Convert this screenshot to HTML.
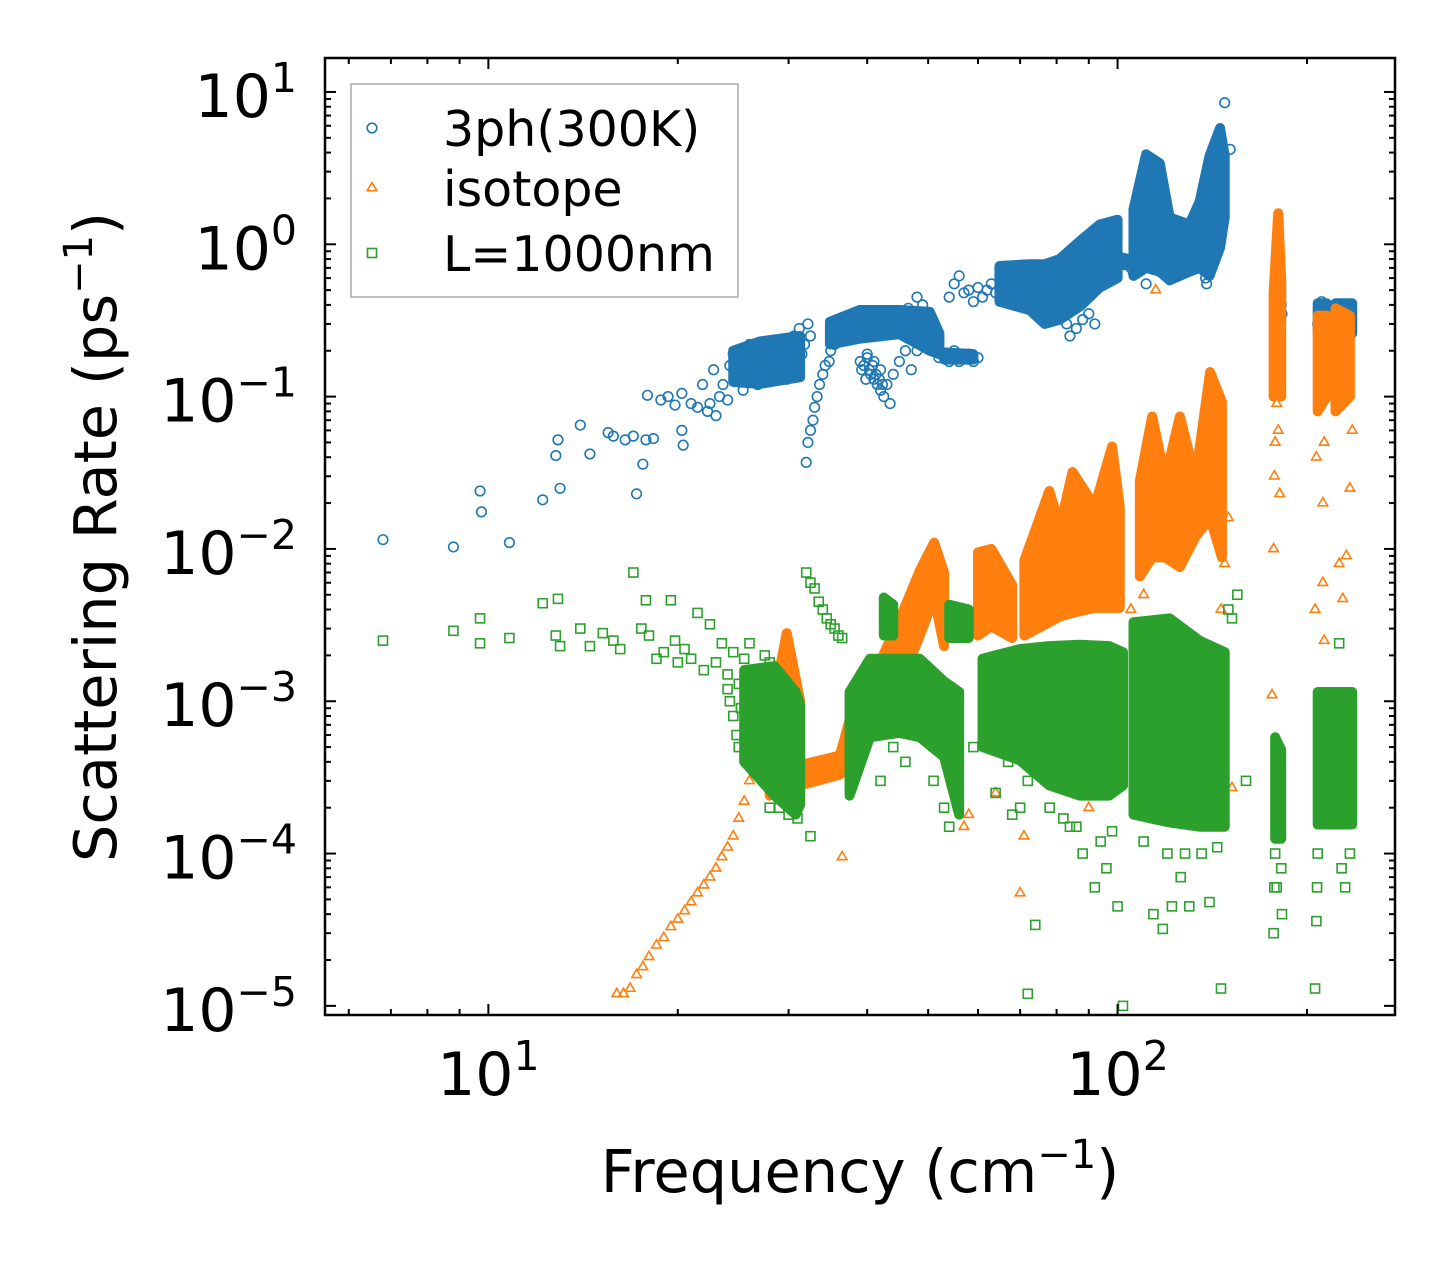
<!DOCTYPE html>
<html><head><meta charset="utf-8"><style>
html,body{margin:0;padding:0;background:#fff}
svg{display:block;font-family:"DejaVu Sans","Liberation Sans",sans-serif}
</style></head><body>
<svg id="chart" width="1455" height="1265" viewBox="0 0 1455 1265" xmlns="http://www.w3.org/2000/svg">
<g id="marks"></g>
<g id="axes"></g>
</svg>
<script>
const blueData = [
[6.8,.0115],[8.8,.0103],[9.7,.024],[9.75,.0175],[10.8,.011],[12.2,.021],[12.8,.041],[12.9,.052],[13,.025],[14,.065],[14.5,.042],[15.5,.058],[15.8,.055],[16.5,.052],[17,.055],[17.2,.023],[17.6,.036],[17.8,.052],[17.9,.102],[18.3,.053],[18.8,.095],[19.3,.1],[19.8,.088],[20.3,.105],[20.3,.06],[20.4,.048],[21,.09],[21.5,.085],[21.9,.12],[22.3,.08],[22.5,.09],[22.8,.15],[23,.075],[23.3,.1],[23.6,.12],[24,.095],[24.2,.16],[24.5,.19],[24.8,.13],[25.2,.2],[25.4,.11],[25.7,.15],[26,.22],[26.2,.13],[26.5,.18],[26.8,.12],[27,.21],[27.2,.16],[27.5,.19],[27.8,.14],[28,.23],[28.3,.17],[28.6,.2],[28.9,.15],[29.2,.22],[29.5,.18],[29.8,.13],[30,.2],[30.3,.16],[30.6,.25],[30.9,.14],[31.2,.28],[31.5,.19],[31.8,.22],[32.2,.3],[32.5,.25],
[32,.037],[32.2,.05],[32.5,.06],[32.8,.07],[33,.085],[33.3,.1],[33.6,.12],[34,.14],[34.3,.16],[34.8,.17],[35,.2],[35.5,.22],[36,.24],[36.5,.25],[37,.27],[37.5,.28],[38,.3],[46.5,.38],[48,.45],[49,.4],
[39,.17],[39.2,.15],[39.5,.16],[39.8,.13],[40,.18],[40.3,.15],[40.5,.14],[40.8,.16],[41,.13],[41.3,.14],[41.5,.12],[41.8,.13],[42,.11],[42.3,.12],[42.5,.1],[43,.12],[43.5,.09],[44,.14],[45,.17],[46,.2],[47,.15],[48,.2],[49,.23],[40,.19],[41,.17],[42,.15],
[52,.18],[53,.19],[54,.17],[55,.2],[56,.17],[57,.18],[58,.19],[59,.17],[60,.18],
[54,.45],[55,.55],[56,.62],[57,.48],[58,.5],[59,.42],[60,.52],[61,.45],[62,.5],[63,.55],[64,.48],[79,.4],[81,.35],[83,.3],[84,.25],[86,.28],[88,.32],[90,.35],[92,.3],
[104,.75],[105,.7],[106,.65],[107,.7],[108,.75],[110,.7],[111,.55],[112,.8],[138,.6],[138.5,.55],[148,8.5],[151,4.2],
[178,.3],[178,.4],[179,.5],[179.5,.6],[180,.7],[180.5,.65],[181,.55],[181.5,.45],[182,.4],[182.5,.35],
[208,.3],[209,.35],[210,.4],[211,.42],[212,.38],[213,.3],[214,.25],[222,.3],[223,.35],[224,.4],[225,.38],[226,.32],[227,.28],[230,.3],[231,.35],[232,.4],[233,.38],[234,.3],[235,.27]
];
const orangeData = [
[16,1.2e-5],[16.4,1.2e-5],[16.8,1.3e-5],[17.2,1.6e-5],[17.6,1.8e-5],[18,2.1e-5],[18.5,2.5e-5],[19,2.8e-5],[19.5,3.3e-5],[20,3.7e-5],[20.5,4.2e-5],[21,4.8e-5],[21.5,5.5e-5],[22,6.2e-5],[22.5,7e-5],[23,8e-5],[23.5,9.5e-5],[24,1.1e-4],[24.5,1.3e-4],[25,1.7e-4],[25.5,2.2e-4],[26,3e-4],[26.5,4e-4],[27,5e-4],
[36.5,9.5e-5],[57,1.5e-4],[70,5.5e-5],[58,1.8e-4],[64,2.5e-4],[71,1.3e-4],[90,2e-4],[100,3e-4],[152,2.7e-4],[115,5e-1],
[105,4e-3],[110,5e-3],[148,8e-3],[150,1.6e-2],[146,4e-3],
[177,.01],[177.5,.03],[178,.05],[180,.06],[181,.023],[176,1.1e-3],[179,.09],
[206,.004],[207,.04],[212,.02],[213,.05],[225,.008],[228,.0047],[234,.025],[212,.006],[213,.0025],[231,.009],[236,.06],[214,.1]
];
const greenData = [
[6.8,2.5e-3],[8.8,2.9e-3],[9.7,3.5e-3],[9.7,2.4e-3],[10.8,2.6e-3],[12.2,4.4e-3],[12.9,4.7e-3],[12.8,2.7e-3],[13,2.3e-3],[14,3e-3],[14.5,2.3e-3],[15.2,2.8e-3],[15.8,2.5e-3],[16.2,2.2e-3],[17,7e-3],[17.5,3e-3],[17.8,4.6e-3],[18,2.7e-3],[18.5,1.9e-3],[19,2.1e-3],[19.5,4.6e-3],[19.8,2.5e-3],[20,1.8e-3],[20.5,2.2e-3],[21,1.9e-3],[21.5,3.8e-3],[22,1.6e-3],[22.5,3.2e-3],[23,1.8e-3],[23.5,2.4e-3],[24,1.5e-3],[24.5,2.1e-3],[25,1.3e-3],[25.5,1.9e-3],[26,2.4e-3],[26.5,1.2e-3],[27,1.6e-3],[27.5,2e-3],[28,1.8e-3],
[24,1.2e-3],[24.5,8e-4],[25,5e-4],[24.2,1e-3],[24.8,6e-4],[25.2,9e-4],
[29,2e-4],[30,1.8e-4],[31,1.7e-4],[32.5,1.3e-4],[28,2e-4],
[32,7e-3],[32.5,6e-3],[33,5.5e-3],[33.5,4.5e-3],[34,4e-3],[34.5,3.5e-3],[35,3.2e-3],[35.5,3e-3],[36,2.7e-3],[36.5,2.6e-3],
[42,3e-4],[44,5e-4],[46,4e-4],[53,2e-4],[54,1.5e-4],[51,3e-4],[50,1e-3],
[59,5e-4],[63,6e-4],[64,2.5e-4],[67,4e-4],[72,3e-4],[68,1.8e-4],[70,2e-4],
[78,2e-4],[82,1.7e-4],[86,1.5e-4],[84,1.5e-4],[88,1e-4],[96,8e-5],[100,4.5e-5],[74,3.4e-5],[72,1.2e-5],[102,1e-5],[92,6e-5],[94,1.2e-4],[98,1.4e-4],
[114,4e-5],[118,3.2e-5],[122,4.5e-5],[126,7e-5],[130,4.5e-5],[140,4.8e-5],[146,1.3e-5],[150,4e-3],[155,5e-3],[152,3.5e-3],[128,1e-4],[136,1e-4],[144,1.1e-4],[120,1e-4],[110,1.2e-4],[160,3e-4],
[177,3e-5],[177.5,6e-5],[178,1e-4],[182,8e-5],[182.5,4e-5],[179,6e-5],
[206,1.3e-5],[207,3.6e-5],[207.5,6e-5],[208,1e-4],[227,8e-5],[225,2.4e-3],[234,1e-4],[230,6e-5]
];
// dense-cluster envelopes: [frequency, lowRate, highRate]
const blueBands = [
 [[24.5,.125,.2],[27,.121,.23],[31.3,.134,.25]],
 [[34.9,.22,.31],[38.9,.24,.37],[45,.257,.37],[50.3,.2,.36],[52.1,.19,.26]],
 [[53,.175,.195],[59,.175,.19]],
 [[64.9,.42,.72],[72.5,.37,.74],[76.6,.3,.74],[80.9,.32,.8],[87.1,.39,1.05],[93.7,.52,1.35],[100,.6,1.45]],
 [[100,.73,.83],[106,.73,.79]],
 [[106,.62,1.7],[111,.7,3.9],[116.7,.66,3.4],[121,.58,1.5],[130,.66,1.35],[135,.7,1.9],[140,.62,3.8],[145.5,.95,5.8],[148,1.5,3.8]],
 [[178,.3,.68],[182,.3,.58]],
 [[208,.26,.41],[215,.26,.41]],
 [[222,.26,.41],[236,.26,.41]]
];
const orangeBands = [
 [[28,2.4e-4,7.5e-4],[29.8,2.8e-4,2.8e-3],[31.3,2.4e-4,1e-3]],
 [[31.3,2.8e-4,3.8e-4],[36.2,3.3e-4,4.4e-4],[37.5,3.7e-4,7.5e-4],[41.9,8e-4,1.8e-3],[45,1.25e-3,3.4e-3],[48.5,2.7e-3,7.2e-3],[51.1,4.8e-3,1.1e-2],[53,2.3e-3,7e-3]],
 [[60,2.7e-3,9.5e-3],[63,3.1e-3,1e-2],[68,2.6e-3,5.8e-3]],
 [[71.1,2.7e-3,8.4e-3],[77.9,3.3e-3,2.4e-2],[81,3.6e-3,1.4e-2],[84.8,3.8e-3,3.2e-2],[92,4.1e-3,1.9e-2],[98,4.1e-3,4.7e-2],[100.8,4.1e-3,1.9e-2]],
 [[108.5,6.6e-3,2.8e-2],[113.5,8.8e-3,7.4e-2],[119,8.8e-3,2.9e-2],[125.6,7.6e-3,7.4e-2],[133,1.2e-2,2.9e-2],[140.3,1.6e-2,.145],[146.5,8.8e-3,.092]],
 [[177,.1,.48],[180,.2,1.6],[182,.1,.58]],
 [[208,.08,.34],[215,.1,.34]],
 [[222,.08,.38],[234,.1,.34]]
];
const greenBands = [
 [[25.5,4e-4,1.6e-3],[28.5,2.4e-4,1.7e-3],[30.8,1.8e-4,1.15e-3],[31.3,2.1e-4,9.5e-4]],
 [[37.5,2.4e-4,1.15e-3],[40.4,5.8e-4,1.9e-3],[45,6.2e-4,1.9e-3],[48.5,5.8e-4,1.9e-3],[53,4.3e-4,1.35e-3],[56,1.8e-4,1.15e-3]],
 [[42.5,2.7e-3,4.8e-3],[44,2.7e-3,4.3e-3]],
 [[54,2.6e-3,4.3e-3],[58,2.6e-3,4e-3]],
 [[61,5e-4,1.9e-3],[69.9,4.1e-4,2.2e-3],[77.9,2.8e-4,2.3e-3],[87.1,2.4e-4,2.35e-3],[97,2.4e-4,2.3e-3],[102,2.8e-4,2.1e-3]],
 [[106,1.8e-4,3.3e-3],[121,1.6e-4,3.5e-3],[135,1.5e-4,2.5e-3],[148,1.5e-4,2.1e-3]],
 [[178,1.25e-4,5.8e-4],[182,1.25e-4,4.8e-4]],
 [[208,1.55e-4,1.15e-3],[236,1.55e-4,1.15e-3]]
];
const xTickValues = [10, 100];
const xTickExps = ["1", "2"];
const yTickValues = [10, 1, 0.1, 0.01, 0.001, 0.0001, 0.00001];
const yTickExps = ["1", "0", "\u22121", "\u22122", "\u22123", "\u22124", "\u22125"];

const NS = "http://www.w3.org/2000/svg";
const L = 325, R = 1395, T = 58, B = 1015;
const xMin = Math.log10(5.5), xMax = Math.log10(276);
const yMin = -5.06, yMax = 1.223;
function xs(v){ return L + (Math.log10(v) - xMin) / (xMax - xMin) * (R - L); }
function ys(v){ return B - (Math.log10(v) - yMin) / (yMax - yMin) * (B - T); }
function el(tag, attrs, parent){ const e = document.createElementNS(NS, tag); for (const k in attrs) e.setAttribute(k, attrs[k]); parent.appendChild(e); return e; }

const marks = document.getElementById("marks");
const axes = document.getElementById("axes");

function tri(cx, cy, s){ return `${cx},${cy - s} ${cx - s*0.87},${cy + s*0.5} ${cx + s*0.87},${cy + s*0.5}`; }
function bandPoints(band){
  const top = band.map(d => `${xs(d[0])},${ys(d[2])}`);
  const bot = band.slice().reverse().map(d => `${xs(d[0])},${ys(d[1])}`);
  return top.concat(bot).join(" ");
}

const gB = el("g", {}, marks);


const gO = el("g", {}, marks);


const gG = el("g", {}, marks);



blueBands.forEach(b => {
  const p = el("polygon", {points: bandPoints(b), fill: "#1f77b4", stroke: "#1f77b4", "stroke-width": 10, "stroke-linejoin": "round"}, gB);
  
  
});
blueData.forEach(d => {
  const c = el("circle", {cx: xs(d[0]), cy: ys(d[1]), r: 4.8, fill: "none", stroke: "#1f77b4", "stroke-width": 1.6}, gB);
  
  
});
orangeBands.forEach(b => {
  const p = el("polygon", {points: bandPoints(b), fill: "#ff7f0e", stroke: "#ff7f0e", "stroke-width": 10, "stroke-linejoin": "round"}, gO);
  
  
});
orangeData.forEach(d => {
  const p = el("polygon", {points: tri(xs(d[0]), ys(d[1]), 5.5), fill: "none", stroke: "#ff7f0e", "stroke-width": 1.6}, gO);
  
  
});
greenBands.forEach(b => {
  const p = el("polygon", {points: bandPoints(b), fill: "#2ca02c", stroke: "#2ca02c", "stroke-width": 10, "stroke-linejoin": "round"}, gG);
  
  
});
greenData.forEach(d => {
  const r = el("rect", {x: xs(d[0]) - 4.5, y: ys(d[1]) - 4.5, width: 9, height: 9, fill: "none", stroke: "#2ca02c", "stroke-width": 1.6}, gG);
  
  
});

const frame = el("rect", {x: L, y: T, width: R - L, height: B - T, fill: "none", stroke: "#000", "stroke-width": 2.5}, axes);



for (let dec = 1; dec <= 100; dec *= 10) {
  for (let m = 1; m <= 9; m++) {
    const v = m * dec; if (v < 5.5 || v > 276) continue;
    const x = xs(v), len = m === 1 ? 11 : 6;
    const t1 = el("line", {x1: x, x2: x, y1: B, y2: B - len, stroke: "#000", "stroke-width": 2}, axes);
    
    
    const t2 = el("line", {x1: x, x2: x, y1: T, y2: T + len, stroke: "#000", "stroke-width": 2}, axes);
    
    
  }
}
for (let e = -5; e <= 1; e++) {
  for (let m = 1; m <= 9; m++) {
    const v = m * Math.pow(10, e); const lv = Math.log10(v);
    if (lv < yMin || lv > yMax) continue;
    const y = ys(v), len = m === 1 ? 11 : 6;
    const t1 = el("line", {x1: L, x2: L + len, y1: y, y2: y, stroke: "#000", "stroke-width": 2}, axes);
    
    
    const t2 = el("line", {x1: R, x2: R - len, y1: y, y2: y, stroke: "#000", "stroke-width": 2}, axes);
    
    
  }
}
xTickValues.forEach((v, i) => {
  const t = el("text", {x: xs(v), y: 1095, "text-anchor": "middle", "font-size": 60, fill: "#000"}, axes);
  
  
  t.innerHTML = `10<tspan dy="-25" font-size="41">${xTickExps[i]}</tspan>`;
});
yTickValues.forEach((v, i) => {
  const t = el("text", {x: 297, y: ys(v) + 25, "text-anchor": "end", "font-size": 60, fill: "#000"}, axes);
  
  
  t.innerHTML = `10<tspan dy="-25" font-size="41">${yTickExps[i]}</tspan>`;
});
const xt = el("text", {x: 860, y: 1192, "text-anchor": "middle", "font-size": 59, fill: "#000"}, axes);


xt.innerHTML = 'Frequency (cm<tspan dy="-24" font-size="40">\u22121</tspan><tspan dy="24">)</tspan>';
const yt = el("text", {x: 0, y: 0, "text-anchor": "middle", "font-size": 59, fill: "#000", transform: "translate(116,537) rotate(-90)"}, axes);


yt.innerHTML = 'Scattering Rate (ps<tspan dy="-24" font-size="40">\u22121</tspan><tspan dy="24">)</tspan>';

const lg = el("g", {}, axes);


const lb = el("rect", {x: 351, y: 84, width: 387, height: 213, fill: "#fff", "fill-opacity": 0.8, stroke: "#aaa", "stroke-width": 1.5}, lg);


const legendItems = ["3ph(300K)", "isotope", "L=1000nm"];
const legendY = [128, 188, 253];
legendItems.forEach((name, i) => {
  const y = legendY[i];
  let m;
  if (i === 0) m = el("circle", {cx: 372, cy: y, r: 4.8, fill: "none", stroke: "#1f77b4", "stroke-width": 1.6}, lg);
  else if (i === 1) m = el("polygon", {points: tri(372, y, 5.5), fill: "none", stroke: "#ff7f0e", "stroke-width": 1.6}, lg);
  else m = el("rect", {x: 367.5, y: y - 4.5, width: 9, height: 9, fill: "none", stroke: "#2ca02c", "stroke-width": 1.6}, lg);
  
  
  const t = el("text", {x: 443, y: y + 18, "font-size": 49, fill: "#000"}, lg);
  
  
  t.textContent = name;
});
</script>
</body></html>
